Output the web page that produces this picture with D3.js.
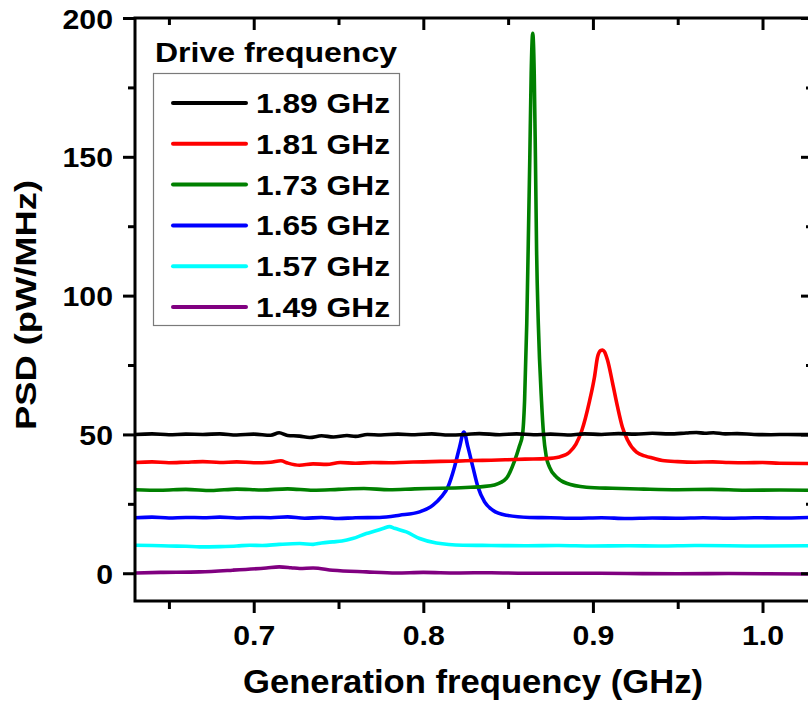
<!DOCTYPE html>
<html>
<head>
<meta charset="utf-8">
<script src="https://cdn.jsdelivr.net/npm/d3@7/dist/d3.min.js"></script>
<style>
  html, body { margin: 0; padding: 0; background: #fff; }
  svg { display: block; }
  text { font-family: "Liberation Sans", Arial, sans-serif; font-weight: bold; fill: #000; }
</style>
</head>
<body>
<script>
// ---------- data ----------
const seriesLabels = ["1.89 GHz", "1.81 GHz", "1.73 GHz", "1.65 GHz", "1.57 GHz", "1.49 GHz"];
const seriesColors = ["#000000", "#ff0000", "#008000", "#0000ff", "#00ffff", "#800080"];
const xMajorTicks = [0.7, 0.8, 0.9, 1.0];
const xMinorTicks = [0.65, 0.75, 0.85, 0.95];
const yMajorTicks = [0, 50, 100, 150, 200];
const yMinorTicks = [25, 75, 125, 175];
const xTickLabels = ["0.7", "0.8", "0.9", "1.0"];
const yTickLabels = ["0", "50", "100", "150", "200"];

const black189 = [
[0.630,50.0],[0.640,50.2],[0.650,49.9],[0.660,50.1],[0.670,50.0],[0.680,50.2],[0.690,49.8],[0.700,50.1],[0.710,49.7],[0.715,50.6],[0.720,49.6],[0.727,49.4],[0.733,48.9],[0.740,49.5],[0.747,49.1],[0.755,49.6],[0.760,49.3],[0.767,50.0],[0.775,49.8],[0.785,50.1],[0.795,49.9],[0.805,50.2],[0.815,49.8],[0.825,50.0],[0.833,50.3],[0.845,49.9],[0.855,50.2],[0.865,49.9],[0.875,50.1],[0.885,49.8],[0.895,50.2],[0.905,50.0],[0.915,50.3],[0.925,50.1],[0.935,50.4],[0.945,50.2],[0.955,50.5],[0.961,50.7],[0.966,50.4],[0.971,50.6],[0.978,50.2],[0.985,50.3],[0.995,50.0],[1.005,49.9],[1.015,50.0],[1.028,49.9]
];
const red181 = [
[0.630,39.9],[0.640,40.1],[0.650,39.8],[0.660,40.0],[0.670,40.2],[0.680,39.9],[0.690,40.1],[0.700,39.8],[0.710,40.0],[0.716,40.5],[0.720,39.7],[0.727,38.9],[0.735,39.4],[0.743,39.2],[0.751,39.9],[0.760,39.6],[0.770,39.9],[0.780,39.8],[0.790,40.0],[0.800,40.1],[0.810,40.3],[0.820,40.4],[0.830,40.6],[0.840,40.7],[0.850,40.9],[0.860,41.1],[0.8725,41.3],[0.8803,41.9],[0.8860,43.5],[0.8900,46.5],[0.8935,51.5],[0.8980,62.0],[0.9009,70.6],[0.9027,77.8],[0.9045,80.2],[0.9057,80.4],[0.9068,79.8],[0.9086,76.8],[0.9116,68.5],[0.9145,60.0],[0.9174,52.6],[0.9204,48.0],[0.9257,43.6],[0.9310,42.2],[0.9351,41.5],[0.9410,40.6],[0.950,40.2],[0.960,40.0],[0.9707,40.1],[0.980,39.9],[0.990,39.8],[1.000,39.9],[1.010,39.6],[1.028,39.5]
];
const green173 = [
[0.630,30.1],[0.645,29.9],[0.660,30.2],[0.675,29.8],[0.690,30.3],[0.705,30.0],[0.720,30.4],[0.735,29.9],[0.750,30.2],[0.765,30.5],[0.780,30.1],[0.795,30.4],[0.810,30.6],[0.825,30.9],[0.835,31.2],[0.842,31.8],[0.849,34.2],[0.8538,40.5],[0.8565,45.5],[0.8585,50.0],[0.8597,62.0],[0.8610,90.0],[0.8618,116.0],[0.8628,150.0],[0.8636,180.0],[0.8645,194.5],[0.8654,180.0],[0.8661,150.0],[0.8668,116.0],[0.8678,90.0],[0.8697,62.0],[0.8709,50.0],[0.8725,42.0],[0.8744,38.2],[0.8786,34.6],[0.8844,32.4],[0.8962,31.0],[0.9115,30.6],[0.930,30.3],[0.950,30.1],[0.970,30.2],[0.990,29.9],[1.010,30.0],[1.028,29.9]
];
const blue165 = [
[0.630,20.0],[0.640,20.2],[0.650,19.9],[0.660,20.1],[0.670,20.0],[0.680,20.2],[0.690,19.9],[0.700,20.1],[0.710,20.0],[0.720,20.3],[0.730,19.8],[0.740,20.1],[0.750,19.7],[0.760,20.0],[0.7742,20.1],[0.786,20.9],[0.7978,22.1],[0.8057,24.5],[0.8106,27.5],[0.8145,31.1],[0.8184,38.3],[0.8214,45.5],[0.8239,50.9],[0.8263,45.5],[0.8292,38.3],[0.8322,31.1],[0.8361,25.7],[0.8410,22.7],[0.8489,20.9],[0.8626,20.1],[0.875,20.0],[0.890,19.8],[0.905,20.0],[0.920,19.7],[0.935,19.9],[0.950,19.8],[0.965,20.0],[0.980,19.8],[0.995,20.0],[1.010,19.9],[1.028,20.1]
];
const cyan157 = [
[0.630,10.1],[0.640,10.0],[0.650,9.8],[0.660,9.7],[0.6682,9.5],[0.680,9.6],[0.690,9.8],[0.6976,10.1],[0.705,10.0],[0.715,10.4],[0.7271,10.7],[0.735,10.4],[0.740,10.9],[0.7466,11.3],[0.752,11.6],[0.7583,12.5],[0.7664,14.3],[0.7720,15.3],[0.7762,16.1],[0.7801,16.8],[0.7830,16.2],[0.7900,14.9],[0.7978,12.5],[0.8077,10.9],[0.8233,10.1],[0.840,10.0],[0.860,9.9],[0.880,10.0],[0.900,9.8],[0.920,9.9],[0.940,9.8],[0.960,10.0],[0.980,9.9],[1.000,9.8],[1.028,9.9]
];
const purple149 = [
[0.630,0.1],[0.645,0.3],[0.6682,0.5],[0.6876,1.1],[0.7075,1.9],[0.715,2.3],[0.722,2.0],[0.7271,1.7],[0.735,1.9],[0.7466,1.1],[0.7664,0.5],[0.7841,0.1],[0.800,0.3],[0.820,0.1],[0.840,0.2],[0.860,0.0],[0.8921,0.0],[0.920,-0.1],[0.950,-0.2],[0.980,-0.1],[1.0257,-0.3],[1.028,-0.3]
];
const seriesData = [black189, red181, green173, blue165, cyan157, purple149];

// ---------- layout ----------
const W = 808, H = 713;
const L = 135, R = 810, T = 18, B = 601;

const svg = d3.select("body").append("svg").attr("width", W).attr("height", H);

const x = d3.scaleLinear().domain([0.63, 1.028]).range([L, R]);
const y = d3.scaleLinear().domain([-10, 200]).range([B, T]);

function stretch(sel, factor) {
  sel.each(function () {
    const len = this.getComputedTextLength();
    d3.select(this).attr("textLength", len * factor).attr("lengthAdjust", "spacingAndGlyphs");
  });
}

// clip
svg.append("defs").append("clipPath").attr("id", "clip")
  .append("rect").attr("x", L).attr("y", T).attr("width", R - L).attr("height", B - T);

// lines (purple first, black on top)
const line = d3.line().x(d => x(d[0])).y(d => y(d[1])).curve(d3.curveMonotoneX);
const gLines = svg.append("g").attr("clip-path", "url(#clip)");
for (let i = seriesData.length - 1; i >= 0; i--) {
  gLines.append("path").datum(seriesData[i])
    .attr("d", line).attr("fill", "none")
    .attr("stroke", seriesColors[i]).attr("stroke-width", 3.6)
    .attr("stroke-linejoin", "round").attr("stroke-linecap", "round");
}

// axes
function styleAxis(g) {
  g.select(".domain").remove();
  g.selectAll(".tick line").attr("stroke", "#000").attr("stroke-width", 3);
}
const fmtX = d => xTickLabels[xMajorTicks.indexOf(d)];
const fmtY = d => yTickLabels[yMajorTicks.indexOf(d)];

// bottom
const gb = svg.append("g").attr("transform", `translate(0,${B})`)
  .call(d3.axisBottom(x).tickValues(xMajorTicks).tickSize(12).tickPadding(20).tickFormat(fmtX));
styleAxis(gb);
gb.selectAll("text").attr("font-size", 28).attr("fill", "#000")
  .attr("font-family", "Liberation Sans, Arial, sans-serif").attr("font-weight", "bold")
  .attr("dy", null).attr("y", 44).attr("dominant-baseline", "alphabetic");
stretch(gb.selectAll("text"), 1.08);
const gbm = svg.append("g").attr("transform", `translate(0,${B})`)
  .call(d3.axisBottom(x).tickValues(xMinorTicks).tickSize(8).tickFormat(""));
styleAxis(gbm);

// top
const gt = svg.append("g").attr("transform", `translate(0,${T})`)
  .call(d3.axisBottom(x).tickValues(xMajorTicks).tickSize(12).tickFormat(""));
styleAxis(gt);
const gtm = svg.append("g").attr("transform", `translate(0,${T})`)
  .call(d3.axisBottom(x).tickValues(xMinorTicks).tickSize(7).tickFormat(""));
styleAxis(gtm);

// left
const gl = svg.append("g").attr("transform", `translate(${L},0)`)
  .call(d3.axisLeft(y).tickValues(yMajorTicks).tickSize(12).tickPadding(10).tickFormat(fmtY));
styleAxis(gl);
gl.selectAll("text").attr("font-size", 28).attr("fill", "#000")
  .attr("font-family", "Liberation Sans, Arial, sans-serif").attr("font-weight", "bold")
  .attr("dy", "0.36em");
stretch(gl.selectAll("text"), 1.08);
const glm = svg.append("g").attr("transform", `translate(${L},0)`)
  .call(d3.axisLeft(y).tickValues(yMinorTicks).tickSize(7).tickFormat(""));
styleAxis(glm);

// right
const gr = svg.append("g").attr("transform", `translate(${R},0)`)
  .call(d3.axisRight(y).tickValues(yMajorTicks).tickSize(-9).tickFormat(""));
styleAxis(gr);
const grm = svg.append("g").attr("transform", `translate(${R},0)`)
  .call(d3.axisRight(y).tickValues(yMinorTicks).tickSize(-4).tickFormat(""));
styleAxis(grm);

// frame
svg.append("rect").attr("x", L).attr("y", T).attr("width", R - L).attr("height", B - T)
  .attr("fill", "none").attr("stroke", "#000").attr("stroke-width", 3);

// axis titles
const xt = svg.append("text").attr("x", 473).attr("y", 693).attr("text-anchor", "middle")
  .attr("font-size", 34).text("Generation frequency (GHz)");
xt.attr("textLength", 460).attr("lengthAdjust", "spacingAndGlyphs");
const yt = svg.append("text").attr("transform", "translate(36,305) rotate(-90)")
  .attr("text-anchor", "middle").attr("font-size", 29).text("PSD (pW/MHz)");
yt.attr("textLength", 250).attr("lengthAdjust", "spacingAndGlyphs");

// legend
const lg = svg.append("g");
lg.append("rect").attr("x", 153.5).attr("y", 73.5).attr("width", 246).attr("height", 252)
  .attr("fill", "#fff").attr("stroke", "#7a7a7a").attr("stroke-width", 1.2);
lg.append("text").attr("x", 155).attr("y", 62).attr("font-size", 27)
  .attr("textLength", 242).attr("lengthAdjust", "spacingAndGlyphs").text("Drive frequency");
const rowY = d3.scalePoint().domain(seriesLabels).range([103, 307]);
seriesLabels.forEach((lab, i) => {
  const yy = rowY(lab);
  lg.append("line").attr("x1", 173).attr("x2", 246).attr("y1", yy).attr("y2", yy)
    .attr("stroke", seriesColors[i]).attr("stroke-width", 4).attr("stroke-linecap", "round");
  lg.append("text").attr("x", 256).attr("y", yy + 10).attr("font-size", 28)
    .attr("textLength", 134).attr("lengthAdjust", "spacingAndGlyphs").text(lab);
});
</script>
</body>
</html>
